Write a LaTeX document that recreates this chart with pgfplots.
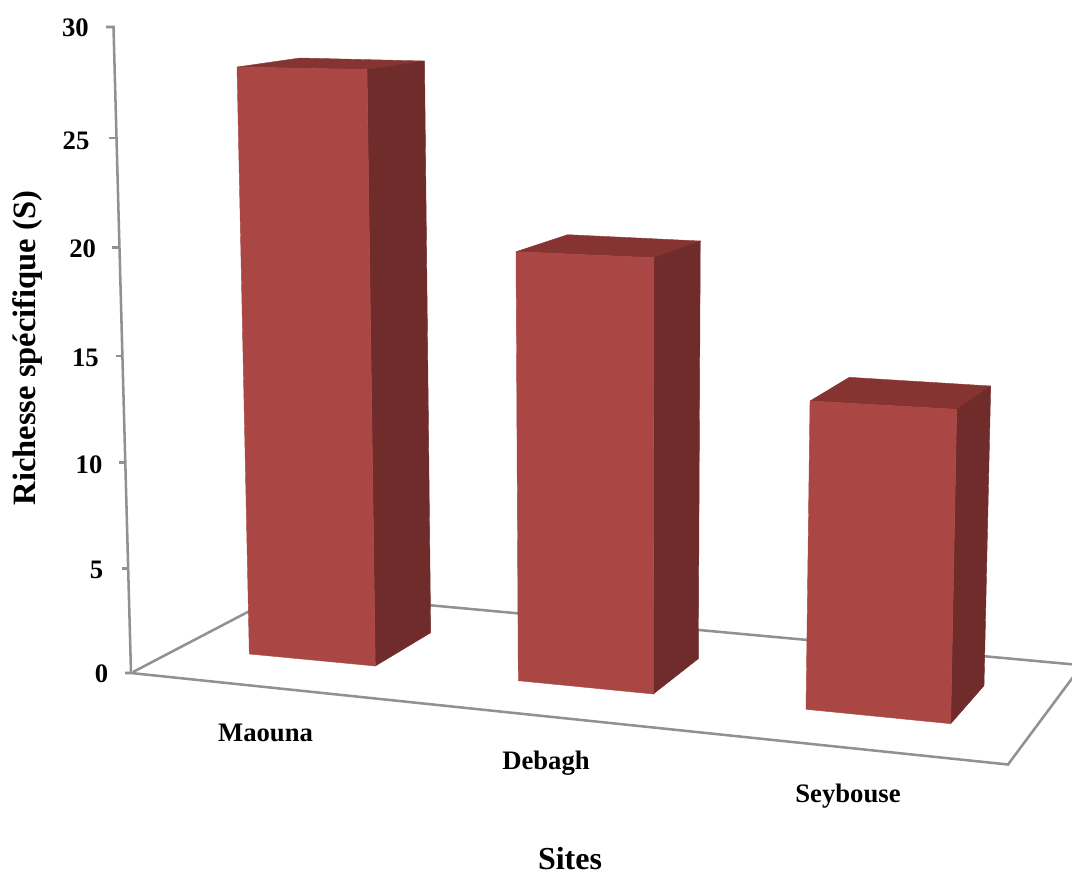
\documentclass[border=0pt]{standalone}
\usepackage{pgfplots}
\usepackage{fontspec}
\setmainfont{Liberation Serif}
\pgfplotsset{compat=1.18}
\definecolor{barfront}{RGB}{170,70,67}
\definecolor{bartop}{RGB}{133,52,50}
\definecolor{barside}{RGB}{111,44,43}
\definecolor{axisgray}{RGB}{145,145,145}
\tikzset{
  axisline/.style={draw=axisgray, line width=1.9pt},
  face/.style={fill=#1, draw=#1, line width=0.3pt},
  lab/.style={font=\fontsize{20}{24}\bfseries\selectfont, text=black, inner sep=0pt},
  ttl/.style={font=\fontsize{24}{28}\bfseries\selectfont, text=black, inner sep=0pt},
}
\begin{document}
\begin{tikzpicture}
\begin{axis}[
  at={(0pt,0pt)}, anchor=south west,
  hide axis, scale only axis,
  width=804pt, height=654pt,
  xmin=0, xmax=1072, ymin=0, ymax=872,
  y dir=reverse,
  every axis plot/.append style={no markers},
]
% floor of the perspective box
\addplot[axisline] coordinates {(133,672) (286,592)};
\addplot[axisline] coordinates {(286,592) (1085,665.5)};
\addplot[axisline] coordinates {(125,673) (131,673) (1008,764.5) (1085,661)};
% value axis and its ticks
\addplot[axisline] coordinates {(106,27) (113.5,27) (131,673)};
\addplot[axisline] coordinates {(109,138) (116.5,138)};
\addplot[axisline] coordinates {(112.3,247.3) (119.5,247.3)};
\addplot[axisline] coordinates {(115.7,356) (122.5,356)};
\addplot[axisline] coordinates {(119,462.3) (125.2,462.3)};
\addplot[axisline] coordinates {(121.7,568.3) (128.2,568.3)};
% Maouna
\addplot[face=bartop]  coordinates {(237,67) (300,58) (424.5,61) (367,69.5) (237,67)};
\addplot[face=barside] coordinates {(367,69.5) (424.5,61) (430.7,632.7) (375.3,666) (367,69.5)};
\addplot[face=barfront] coordinates {(237,67) (367,69.5) (375.3,666) (249.3,654) (237,67)};
% Debagh
\addplot[face=bartop]  coordinates {(516,251.7) (567.7,234.7) (700.3,241) (654,257.7) (516,251.7)};
\addplot[face=barside] coordinates {(654,257.7) (700.3,241) (698.3,658.7) (653.3,694) (654,257.7)};
\addplot[face=barfront] coordinates {(516,251.7) (654,257.7) (653.3,694) (518.3,680.7) (516,251.7)};
% Seybouse
\addplot[face=bartop]  coordinates {(810,401) (849.3,377.3) (990.7,386) (956.7,409.3) (810,401)};
\addplot[face=barside] coordinates {(956.7,409.3) (990.7,386) (984,685.7) (950.7,723.7) (956.7,409.3)};
\addplot[face=barfront] coordinates {(810,401) (956.7,409.3) (950.7,723.7) (806,709.3) (810,401)};
% tick labels
\node[lab] at (axis cs:75.5,28) {30};
\node[lab] at (axis cs:76,140.5) {25};
\node[lab] at (axis cs:82.7,249) {20};
\node[lab] at (axis cs:85.5,358) {15};
\node[lab] at (axis cs:89,464.3) {10};
\node[lab] at (axis cs:96.5,570) {5};
\node[lab] at (axis cs:101.5,674) {0};
% site names and axis titles
\node[lab] at (axis cs:265.5,733) {Maouna};
\node[lab] at (axis cs:546,763.5) {Debagh};
\node[lab] at (axis cs:848,796.5) {Seybouse};
\node[ttl] at (axis cs:570,858.5) {Sites};
\node[ttl, font=\fontsize{24.4}{28}\bfseries\selectfont, rotate=90] at (axis cs:28,348) {Richesse spécifique (S)};
\end{axis}
% page frame: the whole plotting rectangle
\pgfresetboundingbox
\path[use as bounding box] (0pt,0pt) rectangle (804pt,654pt);
\end{tikzpicture}
\end{document}
